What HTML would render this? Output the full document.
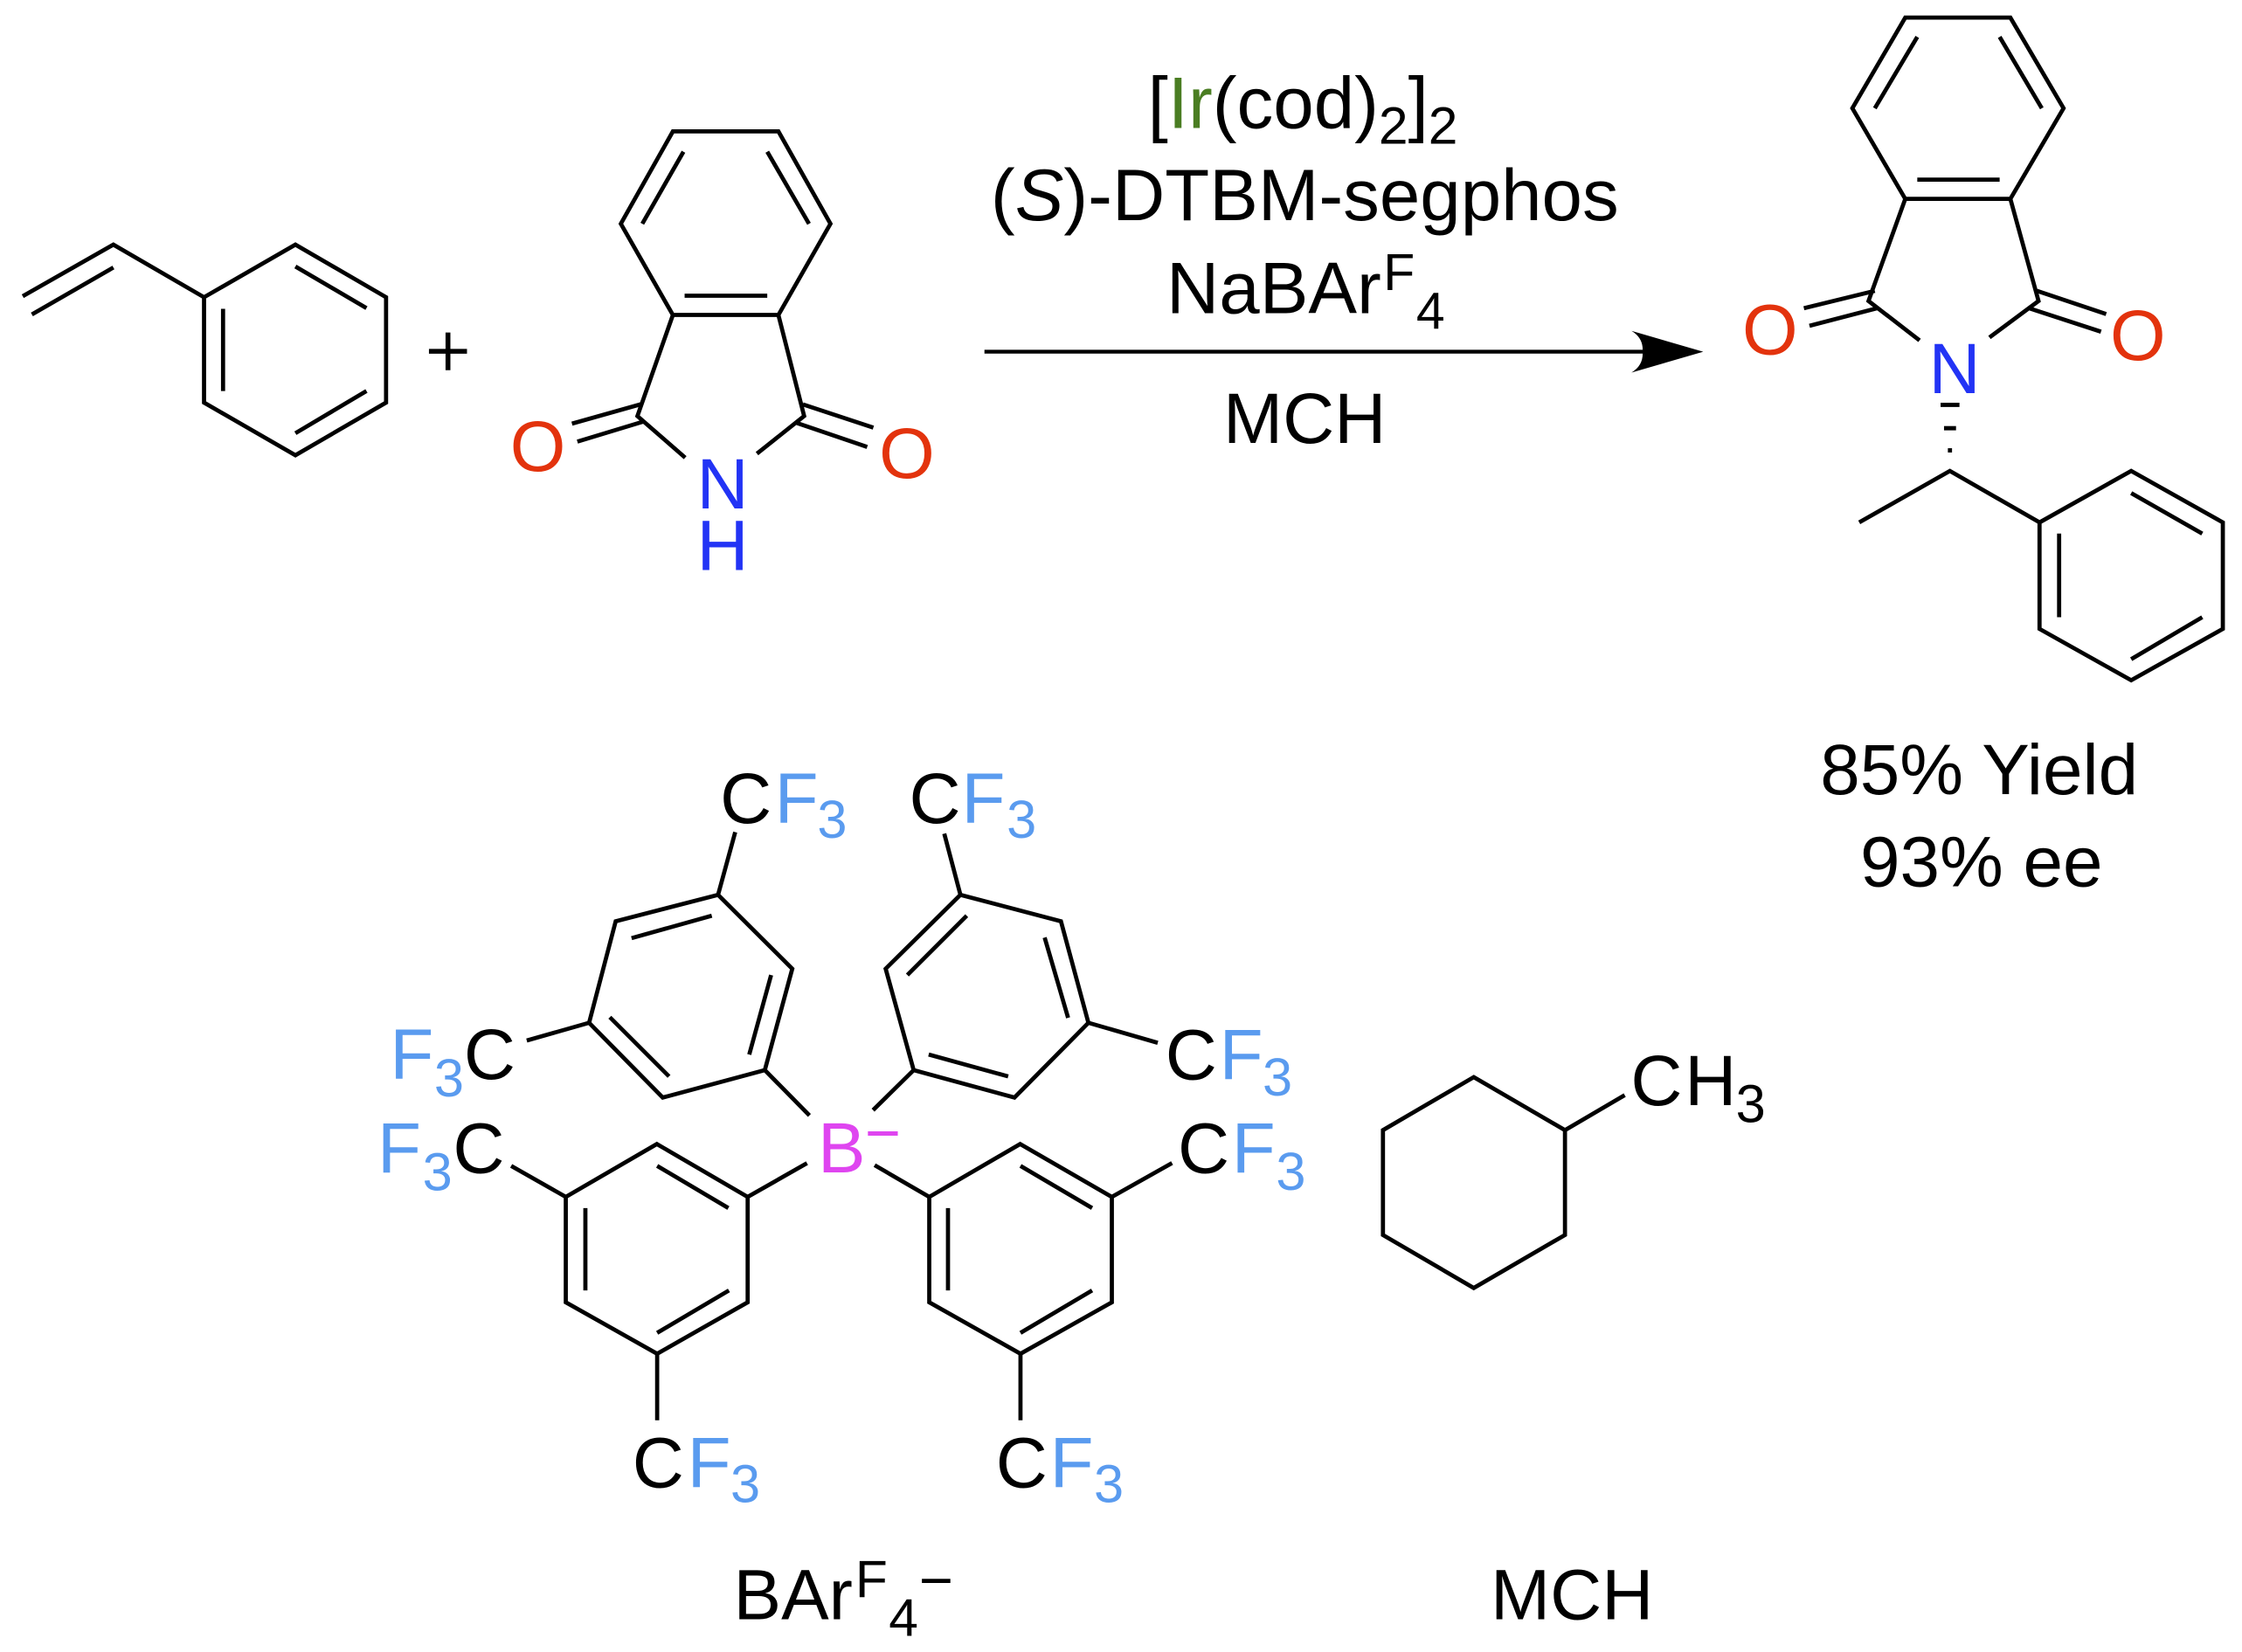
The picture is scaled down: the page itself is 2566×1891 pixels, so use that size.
<!DOCTYPE html>
<html>
<head>
<meta charset="utf-8">
<style>
html,body{margin:0;padding:0;background:#fff;}
svg{display:block}
</style>
</head>
<body>
<svg width="2566" height="1891" viewBox="0 0 1568 1155.5" xmlns="http://www.w3.org/2000/svg">
<rect x="0" y="0" width="1568" height="1155.5" fill="#fff"/>
<g fill="none" stroke="#000" stroke-width="2.9" stroke-linejoin="miter" stroke-linecap="butt">
  <!-- Styrene -->
  <polyline points="15.9,207.2 79.3,171.1 142.7,207.9"/>
  <line x1="22.3" y1="219.9" x2="79.3" y2="187.1"/>
  <polygon points="142.7,207.9 206.6,171.1 270,207.9 270,281.6 206.6,318.4 142.7,281.6"/>
  <line x1="206.6" y1="186.4" x2="256.3" y2="215.5"/>
  <line x1="156" y1="216" x2="156" y2="273.5"/>
  <line x1="206.6" y1="303" x2="256.3" y2="273.5"/>

  <!-- plus -->
  <line x1="300" y1="245.7" x2="326.6" y2="245.7" stroke-width="3.4"/>
  <line x1="313.3" y1="232.6" x2="313.3" y2="258.9" stroke-width="3.4"/>

  <!-- Phthalimide -->
  <polygon points="470.6,91.9 544.4,91.9 580.8,156.5 544.4,220.3 470.6,220.3 434.2,156.5"/>
  <line x1="478" y1="106.1" x2="449.2" y2="156.5"/>
  <line x1="536.6" y1="106.1" x2="565.8" y2="156.5"/>
  <line x1="478.8" y1="206.8" x2="536.6" y2="206.8"/>
  <polyline points="470.6,220.3 445.8,291 479.2,320.1"/>
  <polyline points="544.4,220.3 562.4,291 529.4,317.3"/>
  <line x1="448" y1="282.8" x2="400" y2="296.3"/>
  <line x1="450.1" y1="294.8" x2="403.8" y2="308.9"/>
  <line x1="561.5" y1="282.8" x2="610.8" y2="299.1"/>
  <line x1="557.2" y1="295.8" x2="606.5" y2="312.6"/>

  <!-- Arrow shaft -->
  <line x1="688.5" y1="246" x2="1149" y2="246" stroke-width="2.7"/>

  <!-- Product -->
  <polygon points="1332.5,12.3 1406,12.3 1443.2,75.7 1406,139.1 1332.5,139.1 1295.5,75.7"/>
  <line x1="1311.2" y1="75.7" x2="1340.9" y2="25.8"/>
  <line x1="1398.5" y1="25.8" x2="1428" y2="75.7"/>
  <line x1="1340.9" y1="125.6" x2="1398.5" y2="125.6"/>
  <polyline points="1332.5,139.1 1306.8,210.5 1342.5,238.1"/>
  <polyline points="1406,139.1 1425.7,210.5 1391.4,236"/>
  <line x1="1261.6" y1="215.6" x2="1311.2" y2="203.4"/>
  <line x1="1265.5" y1="227.9" x2="1312.8" y2="215.6"/>
  <line x1="1424.5" y1="203.4" x2="1473" y2="219.7"/>
  <line x1="1419.2" y1="215.6" x2="1469.4" y2="232"/>
  <line x1="1357.2" y1="283.2" x2="1370.4" y2="283.2" stroke-width="3"/>
  <line x1="1359.6" y1="299.5" x2="1368" y2="299.5" stroke-width="3"/>
  <line x1="1362.3" y1="315" x2="1365.2" y2="315" stroke-width="3"/>
  <polyline points="1300.3,365.4 1363.7,329.4 1426.4,365.4"/>
  <polygon points="1426.4,365.4 1490.5,329.4 1554.6,365.4 1554.6,439.9 1490.5,475.8 1426.4,439.9"/>
  <line x1="1440.1" y1="373.2" x2="1440.1" y2="431.7"/>
  <line x1="1490.5" y1="344.9" x2="1540.2" y2="373.2"/>
  <line x1="1490.5" y1="461.1" x2="1540.2" y2="431.7"/>

  <!-- BArF upper-left ring -->
  <polygon points="502.2,625.9 430.6,644.4 412,715.4 463.5,767.7 534.9,748.5 554.1,677.6"/>
  <line x1="441.7" y1="656.2" x2="497.8" y2="640.5"/>
  <line x1="426.5" y1="711.5" x2="467.9" y2="752.9"/>
  <line x1="524" y1="737.6" x2="539.3" y2="682"/>
  <line x1="502.2" y1="625.9" x2="514.2" y2="582"/>
  <line x1="412" y1="715.4" x2="368.4" y2="727.8"/>
  <line x1="534.9" y1="748.5" x2="566.1" y2="780.2"/>

  <!-- BArF upper-right ring -->
  <polygon points="671.7,625.9 742,644.4 761.2,715.4 709.5,767.7 639,748.5 619.4,677.6"/>
  <line x1="676.1" y1="640.5" x2="634.6" y2="682"/>
  <line x1="730.6" y1="655.8" x2="747" y2="711.9"/>
  <line x1="649.5" y1="737.6" x2="705.1" y2="752.9"/>
  <line x1="671.7" y1="625.9" x2="660.4" y2="583.1"/>
  <line x1="761.2" y1="715.4" x2="809.7" y2="729.4"/>
  <line x1="639" y1="748.5" x2="610.6" y2="776.5"/>

  <!-- BArF lower-left ring -->
  <polygon points="459.4,800.2 522.9,837.2 522.9,910.9 459.6,946.9 395.7,910.9 395.7,837.2"/>
  <line x1="459.6" y1="815.5" x2="509.4" y2="845"/>
  <line x1="409.4" y1="845" x2="409.4" y2="902.6"/>
  <line x1="459.6" y1="932.3" x2="509.8" y2="902.6"/>
  <line x1="395.7" y1="837.2" x2="357.5" y2="815.5"/>
  <line x1="522.9" y1="837.2" x2="564.4" y2="813.6"/>
  <line x1="459.6" y1="946.9" x2="459.6" y2="993.4"/>

  <!-- BArF lower-right ring -->
  <polygon points="713.5,800.2 777.6,837.2 777.6,910.9 713.7,946.9 649.9,910.9 649.9,837.2"/>
  <line x1="713.7" y1="815.5" x2="763.8" y2="845"/>
  <line x1="663" y1="845" x2="663" y2="902.6"/>
  <line x1="713.7" y1="932.3" x2="763.8" y2="902.6"/>
  <line x1="649.9" y1="837.2" x2="611.7" y2="815"/>
  <line x1="777.6" y1="837.2" x2="819.7" y2="813.5"/>
  <line x1="713.7" y1="946.9" x2="713.7" y2="993.4"/>

  <!-- Methylcyclohexane -->
  <polygon points="1030.7,753.4 1094.5,790.5 1094.5,863.8 1030.7,900.9 967.2,863.8 967.2,790.5"/>
  <line x1="1094.5" y1="790.5" x2="1136.3" y2="766"/>
</g>

<!-- Arrow head -->
<path d="M1191.2,246 L1141,231.4 Q1149.5,236.5 1148.8,246 Q1149.5,255.5 1141,260.6 Z" fill="#000"/>

<g font-family="'Liberation Sans', Arial, Helvetica, sans-serif" font-size="50" fill="#000">
  <!-- Phthalimide labels -->
  <text x="376.2" y="329.3" text-anchor="middle" fill="#E3330D">O</text>
  <text x="634.3" y="334.3" text-anchor="middle" fill="#E3330D">O</text>
  <text x="505.4" y="355.6" text-anchor="middle" fill="#2233F5">N</text>
  <text x="505.4" y="398.7" text-anchor="middle" fill="#2233F5">H</text>

  <!-- Reagents -->
  <text x="802.7" y="89.6" font-size="51">[<tspan fill="#4A7D22">Ir</tspan>(cod)<tspan dy="11" font-size="37">2</tspan><tspan dy="-11">]</tspan><tspan dy="11" font-size="37">2</tspan></text>
  <text x="692.9" y="154" font-size="51">(<tspan font-style="italic">S</tspan>)-DTBM-segphos</text>
  <text x="815.8" y="219.2" font-size="51">NaBAr<tspan x="967.5" dy="-16.4" font-size="36">F</tspan><tspan x="990.5" dy="27.4" font-size="36">4</tspan></text>
  <text x="855.5" y="309.8">MCH</text>

  <!-- Product labels -->
  <text x="1237.9" y="247.9" text-anchor="middle" fill="#E3330D">O</text>
  <text x="1495.2" y="251.9" text-anchor="middle" fill="#E3330D">O</text>
  <text x="1367" y="275" text-anchor="middle" fill="#2233F5">N</text>
  <text x="1273" y="555.3">85% Yield</text>
  <text x="1301" y="619.9">93% ee</text>

  <!-- BArF labels -->
  <text y="575.7"><tspan x="503.6">C</tspan><tspan x="541.8" fill="#5A9BEF">F</tspan><tspan x="571.6" dy="10.3" font-size="37.5" fill="#5A9BEF">3</tspan></text>
  <text y="575.7"><tspan x="635.8">C</tspan><tspan x="672.5" fill="#5A9BEF">F</tspan><tspan x="704" dy="10.3" font-size="37.5" fill="#5A9BEF">3</tspan></text>
  <text y="755"><tspan x="815">C</tspan><tspan x="852.8" fill="#5A9BEF">F</tspan><tspan x="883" dy="11.3" font-size="37.5" fill="#5A9BEF">3</tspan></text>
  <text y="820.5"><tspan x="823.7">C</tspan><tspan x="861.5" fill="#5A9BEF">F</tspan><tspan x="892.4" dy="11.8" font-size="37.5" fill="#5A9BEF">3</tspan></text>
  <text y="1040.2"><tspan x="442.3">C</tspan><tspan x="480.7" fill="#5A9BEF">F</tspan><tspan x="510.9" dy="10.6" font-size="37.5" fill="#5A9BEF">3</tspan></text>
  <text y="1040.2"><tspan x="696.5">C</tspan><tspan x="734.3" fill="#5A9BEF">F</tspan><tspan x="765.1" dy="10.6" font-size="37.5" fill="#5A9BEF">3</tspan></text>
  <text y="754.8"><tspan x="272.8" fill="#5A9BEF">F</tspan><tspan x="303.6" dy="12" font-size="37.5" fill="#5A9BEF">3</tspan><tspan x="324.4" dy="-12">C</tspan></text>
  <text y="820.3"><tspan x="264" fill="#5A9BEF">F</tspan><tspan x="295.5" dy="12.3" font-size="37.5" fill="#5A9BEF">3</tspan><tspan x="316.8" dy="-12.3">C</tspan></text>

  <text x="572" y="820" fill="#DF45F0">B<tspan x="604.9" y="807.1" font-size="43">−</tspan></text>

  <text x="513" y="1132.7">BAr<tspan x="598.2" dy="-15.3" font-size="37">F</tspan><tspan x="621.6" dy="26.9" font-size="37">4</tspan><tspan x="642.7" dy="-24.8" font-size="41">−</tspan></text>

  <!-- MCH -->
  <text y="773"><tspan x="1140.5">C</tspan><tspan x="1178.3">H</tspan><tspan x="1214" dy="12" font-size="37.5">3</tspan></text>
  <text x="1042.5" y="1132.7">MCH</text>
</g>
</svg>
</body>
</html>
